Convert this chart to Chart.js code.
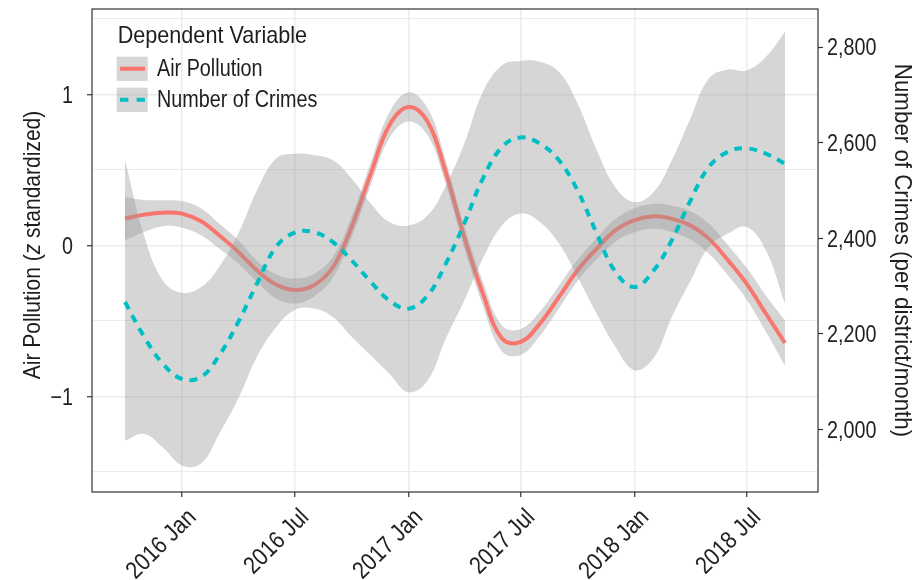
<!DOCTYPE html>
<html><head><meta charset="utf-8">
<script src="https://cdn.jsdelivr.net/npm/chart.js@4.4.1/dist/chart.umd.min.js"></script>
<style>html,body{margin:0;padding:0;background:#fff}#wrap{width:920px;height:580px;position:relative}</style>
</head><body><div id="wrap"><canvas id="c" width="920" height="580"></canvas></div>
<script>
// ---- data ----
const months = ['2015-10','2015-11','2015-12',
 '2016-01','2016-02','2016-03','2016-04','2016-05','2016-06','2016-07','2016-08','2016-09','2016-10','2016-11','2016-12',
 '2017-01','2017-02','2017-03','2017-04','2017-05','2017-06','2017-07','2017-08','2017-09','2017-10','2017-11','2017-12',
 '2018-01','2018-02','2018-03','2018-04','2018-05','2018-06','2018-07','2018-08','2018-09'];
const airPollution = [0.177,0.203,0.216,0.210,0.159,0.066,-0.044,-0.166,-0.260,-0.296,-0.265,-0.144,0.121,0.475,0.795,0.916,0.817,0.497,0.055,-0.320,-0.618,-0.640,-0.519,-0.342,-0.166,-0.022,0.099,0.166,0.192,0.177,0.132,0.044,-0.100,-0.254,-0.452,-0.647];
const airLower = [0.033,0.088,0.126,0.117,0.066,-0.022,-0.121,-0.243,-0.353,-0.386,-0.340,-0.214,0.051,0.400,0.710,0.820,0.727,0.417,-0.020,-0.400,-0.703,-0.726,-0.600,-0.417,-0.236,-0.092,0.024,0.086,0.109,0.090,0.038,-0.056,-0.200,-0.359,-0.572,-0.797];
const airUpper = [0.320,0.300,0.298,0.293,0.243,0.144,0.033,-0.100,-0.192,-0.220,-0.190,-0.074,0.191,0.550,0.880,1.013,0.907,0.577,0.130,-0.240,-0.533,-0.554,-0.440,-0.267,-0.096,0.048,0.174,0.246,0.275,0.264,0.226,0.144,0.000,-0.149,-0.332,-0.497];
const crimes = [2267,2194,2138,2106,2110,2155,2225,2305,2382,2412,2413,2392,2354,2309,2270,2253,2281,2344,2431,2525,2591,2611,2598,2563,2500,2410,2330,2298,2333,2393,2478,2549,2581,2588,2577,2556];
const crimesLower = [1977,1991,1963,1925,1929,1991,2065,2152,2214,2250,2253,2235,2194,2155,2117,2078,2103,2187,2270,2358,2427,2452,2434,2389,2319,2242,2173,2124,2150,2232,2310,2382,2410,2424,2375,2263];
const crimesUpper = [2563,2405,2312,2286,2298,2340,2410,2500,2567,2577,2574,2563,2525,2473,2434,2427,2448,2507,2598,2706,2762,2771,2769,2748,2682,2584,2507,2476,2497,2560,2650,2734,2753,2751,2779,2832];
const xTickMonths = ['2016-01','2016-07','2017-01','2017-07','2018-01','2018-07'];
const xTickLabels = ['2016 Jan','2016 Jul','2017 Jan','2017 Jul','2018 Jan','2018 Jul'];
const leftMajorTicks = [-1,0,1];
const leftMinorTicks = [-1.5,-0.5,0.5,1.5];
const rightTicks = [2000,2200,2400,2600,2800];
const seriesNames = ['Air Pollution','Number of Crimes'];
const legendTitle = 'Dependent Variable';
const leftTitle = [['Air Pollution (',false],['z',true],[' standardized)',false]];
const rightTitle = [['Number of Crimes (per district/month)',false]];
// secondary axis transform: crimes = CR_MEAN + CR_SD * z
const CR_MEAN = 2385.4, CR_SD = 315.7;
const Y_MIN = -1.634, Y_MAX = 1.565;

// ---- helpers ----
const FONT = '"Liberation Sans",Arial,sans-serif';
const RED = '#F8766D', TEAL = '#00BFC4', BAND = 'rgba(153,153,153,0.4)', INK = '#1e1e1e';
function dayOf(s){const [y,m]=s.split('-').map(Number);return (Date.UTC(y,m-1,1)-Date.UTC(2016,0,1))/86400000;}
const xs = months.map(dayOf);
const span = xs[xs.length-1]-xs[0];
const X_MIN = xs[0]-0.05*span, X_MAX = xs[xs.length-1]+0.05*span;
const pts = arr => arr.map((v,i)=>({x:xs[i],y:v}));

const lineBase = {pointRadius:0, pointHoverRadius:0, tension:0.4, fill:false};
const datasets = [
  Object.assign({label:seriesNames[1], data:pts(crimes), yAxisID:'y2', borderColor:TEAL, borderWidth:4, borderDash:[8,7], order:0}, lineBase),
  Object.assign({label:'crimesLower', data:pts(crimesLower), yAxisID:'y2', borderWidth:0, borderColor:'rgba(0,0,0,0)', order:1}, lineBase),
  Object.assign({}, lineBase, {label:'crimesUpper', data:pts(crimesUpper), yAxisID:'y2', borderWidth:0, borderColor:'rgba(0,0,0,0)', backgroundColor:BAND, fill:{target:1}, order:1}),
  Object.assign({label:seriesNames[0], data:pts(airPollution), yAxisID:'y', borderColor:RED, borderWidth:4, order:2}, lineBase),
  Object.assign({label:'airLower', data:pts(airLower), yAxisID:'y', borderWidth:0, borderColor:'rgba(0,0,0,0)', order:3}, lineBase),
  Object.assign({}, lineBase, {label:'airUpper', data:pts(airUpper), yAxisID:'y', borderWidth:0, borderColor:'rgba(0,0,0,0)', backgroundColor:BAND, fill:{target:4}, order:3})
];

// condensed text: parts = [[text, italic], ...]
function txt(ctx, parts, x, y, o){
  ctx.save();
  ctx.translate(x, y);
  if (o.rot) ctx.rotate(o.rot);
  ctx.scale(o.sx || 1, 1);
  ctx.fillStyle = o.color || INK;
  ctx.textBaseline = 'alphabetic'; ctx.textAlign = 'left';
  let w = 0;
  parts.forEach(p=>{ctx.font=(p[1]?'italic ':'')+o.size+'px '+FONT; p.w=ctx.measureText(p[0]).width; w+=p.w;});
  let cx = o.align==='right' ? -w : o.align==='center' ? -w/2 : 0;
  parts.forEach(p=>{ctx.font=(p[1]?'italic ':'')+o.size+'px '+FONT; ctx.fillText(p[0],cx,0); cx+=p.w;});
  ctx.restore();
}

const decor = {
  id:'decor',
  afterDraw(chart){
    const ctx = chart.ctx, a = chart.chartArea, sc = chart.scales;
    ctx.save();
    ctx.strokeStyle='#333'; ctx.lineWidth=1.2;
    ctx.strokeRect(a.left, a.top, a.right-a.left, a.bottom-a.top);
    ctx.restore();
    // tick labels
    const TS = 23.5, TX = 0.84;
    leftMajorTicks.forEach(v=>{
      txt(ctx, [[String(v).replace('-','\u2212'),false]], 73, sc.y.getPixelForValue(v)+8.3, {size:TS, sx:TX, align:'right', color:'#222'});
    });
    rightTicks.forEach(v=>{
      txt(ctx, [[v.toLocaleString('en-US'),false]], 827, sc.y2.getPixelForValue(v)+8.3, {size:TS, sx:TX, align:'left', color:'#222'});
    });
    xTickMonths.forEach((m,i)=>{
      const px = sc.x.getPixelForValue(dayOf(m));
      ctx.save(); ctx.translate(px+3, 506); ctx.rotate(-Math.PI/4);
      txt(ctx, [[xTickLabels[i],false]], 0, 17.4, {size:24.5, sx:0.865, align:'right', color:'#222'});
      ctx.restore();
    });
    // axis titles
    txt(ctx, leftTitle, 40, 245, {size:24, sx:0.875, align:'center', rot:-Math.PI/2});
    txt(ctx, rightTitle, 895, (a.top+a.bottom)/2, {size:24, sx:0.93, align:'center', rot:Math.PI/2});
    // legend
    txt(ctx, [[legendTitle,false]], 117.7, 43.3, {size:24, sx:0.9});
    const keys = [{c:RED,dash:[],y:56.7},{c:TEAL,dash:[8.3,8.3],y:87.7}];
    keys.forEach((k,i)=>{
      ctx.save();
      ctx.fillStyle=BAND; ctx.fillRect(116.7,k.y,31,24.3);
      ctx.strokeStyle=k.c; ctx.lineWidth=4; ctx.setLineDash(k.dash);
      ctx.beginPath(); ctx.moveTo(120,k.y+12); ctx.lineTo(145,k.y+12); ctx.stroke();
      ctx.restore();
      txt(ctx, [[seriesNames[i],false]], 157, k.y+19, {size:23, sx:0.86});
    });
  }
};

new Chart(document.getElementById('c'), {
  type:'line',
  data:{datasets},
  options:{
    responsive:false, animation:false, events:[],
    layout:{padding:{top:9,left:0,right:0,bottom:0}},
    plugins:{legend:{display:false}, tooltip:{enabled:false}, filler:{propagate:false}},
    scales:{
      x:{type:'linear', min:X_MIN, max:X_MAX,
        afterBuildTicks:s=>{s.ticks=xTickMonths.map(m=>({value:dayOf(m)}));},
        afterFit:s=>{s.height=88;},
        ticks:{display:false, autoSkip:false},
        grid:{color:'#ebebeb', lineWidth:1.5, tickColor:'#333', tickLength:5, tickWidth:1.2},
        border:{display:false}},
      y:{type:'linear', position:'left', min:Y_MIN, max:Y_MAX,
        afterBuildTicks:s=>{s.ticks=leftMinorTicks.concat(leftMajorTicks).sort((p,q)=>p-q).map(v=>({value:v}));},
        afterFit:s=>{s.width=92;},
        ticks:{display:false},
        grid:{color:'#ebebeb', lineWidth:c=>leftMajorTicks.includes(c.tick.value)?1.5:1,
          tickColor:c=>leftMajorTicks.includes(c.tick.value)?'#333':'rgba(0,0,0,0)', tickLength:5, tickWidth:1.2},
        border:{display:false}},
      y2:{type:'linear', position:'right', min:CR_MEAN+CR_SD*Y_MIN, max:CR_MEAN+CR_SD*Y_MAX,
        afterBuildTicks:s=>{s.ticks=rightTicks.map(v=>({value:v}));},
        afterFit:s=>{s.width=102;},
        ticks:{display:false},
        grid:{drawOnChartArea:false, tickColor:'#333', tickLength:5, tickWidth:1.2},
        border:{display:false}}
    }
  },
  plugins:[decor]
});
</script></body></html>
